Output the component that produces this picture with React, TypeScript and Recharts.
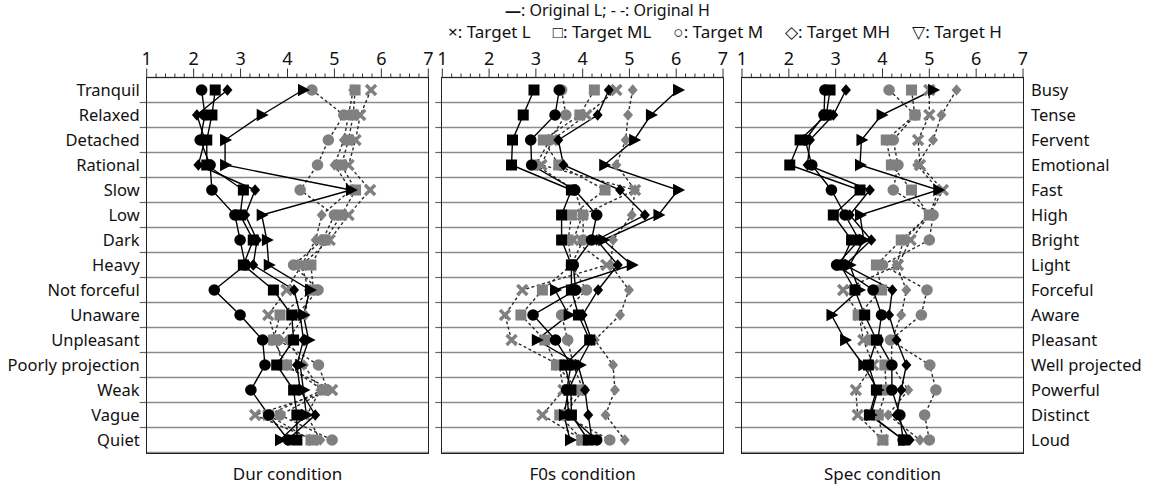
import React from 'react'
import { LineChart, Line, XAxis, YAxis, CartesianGrid } from 'recharts'

const leftLabels = ['Tranquil', 'Relaxed', 'Detached', 'Rational', 'Slow', 'Low', 'Dark', 'Heavy', 'Not forceful', 'Unaware', 'Unpleasant', 'Poorly projection', 'Weak', 'Vague', 'Quiet']
const rightLabels = ['Busy', 'Tense', 'Fervent', 'Emotional', 'Fast', 'High', 'Bright', 'Light', 'Forceful', 'Aware', 'Pleasant', 'Well projected', 'Powerful', 'Distinct', 'Loud']
const rowIndex = [0.5, 1.5, 2.5, 3.5, 4.5, 5.5, 6.5, 7.5, 8.5, 9.5, 10.5, 11.5, 12.5, 13.5, 14.5]
const rowBounds = [1, 2, 3, 4, 5, 6, 7, 8, 9, 10, 11, 12, 13, 14]
const majorTicks = [1, 2, 3, 4, 5, 6, 7]
const minorTicks = [1.2, 1.4, 1.6, 1.8, 2.2, 2.4, 2.6, 2.8, 3.2, 3.4, 3.6, 3.8, 4.2, 4.4, 4.6, 4.8, 5.2, 5.4, 5.6, 5.8, 6.2, 6.4, 6.6, 6.8]
const legendItems = ['×: Target L', '□: Target ML', '○: Target M', '◇: Target MH', '▽: Target H']

// Dur condition
const durL_ML = [2.46, 2.39, 2.28, 2.28, 3.06, 2.99, 3.27, 3.06, 3.7, 4.09, 4.13, 3.77, 4.13, 4.2, 4.2]
const durL_M = [2.17, 2.24, 2.14, 2.35, 2.39, 2.88, 2.99, 3.1, 2.44, 2.99, 3.47, 3.52, 3.22, 3.6, 4.02]
const durL_MH = [2.72, 2.07, 2.24, 2.1, 3.31, 3.1, 3.35, 3.27, 4.14, 4.27, 4.34, 4.2, 4.27, 4.59, 4.0]
const durL_H = [4.33, 3.45, 2.67, 2.67, 5.35, 3.45, 3.56, 3.6, 4.48, 4.34, 4.45, 4.27, 4.34, 4.4, 3.84]
const durH_L = [5.78, 5.55, 5.45, 5.3, 5.76, 5.3, 4.9, 4.3, 3.98, 3.59, 3.75, 3.9, 4.95, 3.31, 4.55]
const durH_ML = [5.44, 5.4, 5.3, 5.15, 5.45, 5.15, 4.8, 4.5, 4.55, 3.84, 3.7, 3.98, 4.75, 3.59, 4.5]
const durH_M = [4.52, 5.2, 4.87, 4.64, 4.27, 5.0, 4.75, 4.13, 4.65, 4.2, 3.8, 4.66, 4.85, 3.84, 4.95]
const durH_MH = [5.4, 5.3, 5.2, 5.0, 5.35, 4.73, 4.6, 4.3, 4.45, 4.38, 4.0, 4.35, 4.7, 4.41, 4.7]

// F0s condition
const f0L_ML = [2.96, 2.73, 2.5, 2.48, 3.76, 3.55, 3.55, 3.76, 3.76, 3.91, 4.15, 3.62, 3.75, 3.76, 4.12]
const f0L_M = [3.5, 3.41, 2.89, 2.91, 3.83, 4.3, 4.19, 3.8, 3.85, 2.94, 3.42, 3.75, 3.66, 3.7, 4.3]
const f0L_MH = [4.56, 4.32, 3.48, 3.59, 4.8, 5.33, 4.3, 4.75, 4.33, 4.0, 4.19, 3.9, 4.05, 4.12, 4.2]
const f0L_H = [6.04, 5.46, 5.1, 4.46, 6.04, 5.62, 4.44, 5.05, 3.41, 3.7, 3.02, 3.94, 3.7, 3.6, 3.73]
const f0H_L = [4.72, 4.08, 3.35, 3.12, 5.12, 4.0, 3.8, 4.51, 2.71, 2.34, 2.48, 3.5, 3.59, 3.14, 4.0]
const f0H_ML = [4.25, 3.94, 3.16, 3.49, 4.48, 3.76, 3.69, 3.76, 3.14, 2.68, 3.19, 3.44, 3.9, 3.51, 3.98]
const f0H_M = [3.55, 3.64, 3.3, 3.0, 3.83, 4.01, 4.01, 3.76, 4.08, 3.55, 3.68, 3.8, 4.01, 3.6, 4.58]
const f0H_MH = [5.07, 4.97, 4.92, 4.72, 5.12, 5.05, 4.65, 4.6, 4.99, 4.8, 4.26, 4.65, 4.69, 4.49, 4.9]

// Spec condition
const specL_ML = [2.88, 2.8, 2.24, 2.02, 3.52, 2.95, 3.34, 3.1, 3.41, 3.62, 3.87, 3.7, 3.87, 3.72, 4.45]
const specL_M = [2.77, 2.75, 2.35, 2.49, 2.91, 3.2, 3.5, 3.02, 3.8, 3.98, 3.9, 4.2, 4.2, 4.37, 4.44]
const specL_MH = [3.22, 2.95, 2.45, 2.4, 3.73, 3.3, 3.76, 3.2, 4.21, 4.14, 4.3, 4.51, 4.4, 4.3, 4.58]
const specL_H = [5.08, 3.98, 3.55, 3.52, 5.19, 3.52, 3.6, 3.3, 3.5, 2.91, 3.2, 3.59, 3.9, 3.75, 4.45]
const specH_L = [5.0, 5.0, 4.76, 4.8, 5.29, 5.0, 4.6, 4.33, 3.16, 3.5, 3.59, 3.8, 3.43, 3.47, 4.0]
const specH_ML = [4.62, 4.69, 4.08, 4.19, 4.62, 5.0, 4.4, 3.87, 3.98, 3.48, 3.76, 4.05, 4.08, 3.91, 4.01]
const specH_M = [4.14, 4.7, 4.23, 4.33, 4.23, 5.08, 5.0, 4.0, 4.95, 4.83, 4.17, 5.01, 5.14, 4.9, 5.0]
const specH_MH = [5.58, 5.26, 5.08, 4.74, 5.2, 5.0, 4.45, 4.3, 4.51, 4.4, 4.2, 4.19, 4.55, 4.12, 4.8]

const FONT = '"Noto Sans", "Open Sans", sans-serif'
const W = 1153
const H = 492
const PLOT_TOP = 77.5
const PLOT_BOTTOM = 452.5
const GRAY = '#808080'

// gray (Original H) drawn first, black (Original L) on top
const seriesDefs = [
  { key: 'hL', shape: 'x', orig: 'H' },
  { key: 'hML', shape: 'sq', orig: 'H' },
  { key: 'hM', shape: 'ci', orig: 'H' },
  { key: 'hMH', shape: 'di', orig: 'H' },
  { key: 'lML', shape: 'sq', orig: 'L' },
  { key: 'lM', shape: 'ci', orig: 'L' },
  { key: 'lMH', shape: 'di', orig: 'L' },
  { key: 'lH', shape: 'tr', orig: 'L' },
]

const panels = [
  {
    title: 'Dur condition', left: 146.7, right: 428.3, rightLabels: false,
    cols: { lML: durL_ML, lM: durL_M, lMH: durL_MH, lH: durL_H, hL: durH_L, hML: durH_ML, hM: durH_M, hMH: durH_MH },
  },
  {
    title: 'F0s condition', left: 442.3, right: 723, rightLabels: false,
    cols: { lML: f0L_ML, lM: f0L_M, lMH: f0L_MH, lH: f0L_H, hL: f0H_L, hML: f0H_ML, hM: f0H_M, hMH: f0H_MH },
  },
  {
    title: 'Spec condition', left: 742, right: 1023, rightLabels: true,
    cols: { lML: specL_ML, lM: specL_M, lMH: specL_MH, lH: specL_H, hL: specH_L, hML: specH_ML, hM: specH_M, hMH: specH_MH },
  },
]

function Marker({ cx, cy, shape, color }: any) {
  if (cx == null || cy == null) return null
  if (shape === 'x') {
    return (
      <g>
        <line x1={cx - 5} y1={cy - 5} x2={cx + 5} y2={cy + 5} stroke={color} strokeWidth={3.4} />
        <line x1={cx - 5} y1={cy + 5} x2={cx + 5} y2={cy - 5} stroke={color} strokeWidth={3.4} />
      </g>
    )
  }
  if (shape === 'sq') return <rect x={cx - 5.5} y={cy - 5.5} width={11} height={11} fill={color} />
  if (shape === 'ci') return <circle cx={cx} cy={cy} r={5.8} fill={color} />
  if (shape === 'di') return <polygon points={`${cx},${cy - 5.8} ${cx + 5},${cy} ${cx},${cy + 5.8} ${cx - 5},${cy}`} fill={color} />
  return <polygon points={`${cx - 5},${cy - 6.2} ${cx + 7},${cy} ${cx - 5},${cy + 6.2}`} fill={color} />
}

function Panel({ p }: any) {
  const rows = rowIndex.map((idx, i) => {
    const r: any = { idx }
    for (const s of seriesDefs) r[s.key] = p.cols[s.key][i]
    return r
  })

  const topTick = (props: any) => {
    const v = props.payload.value
    const major = majorTicks.includes(v)
    return (
      <g>
        <line x1={props.x} x2={props.x} y1={PLOT_TOP} y2={PLOT_TOP - (major ? 9 : 4)} stroke="#333" strokeWidth={1} />
        {major && (
          <text x={props.x} y={PLOT_TOP - 13} textAnchor="middle" fontSize={18} fontFamily={FONT} fill="#111">
            {v}
          </text>
        )}
      </g>
    )
  }

  const leftTick = (props: any) => {
    const v = props.payload.value
    if (rowBounds.includes(v)) {
      return <line x1={p.left} x2={p.left - 7} y1={props.y} y2={props.y} stroke="#666" strokeWidth={1.2} />
    }
    if (p.left > 200) return <g />
    return (
      <text x={p.left - 7} y={props.y} dy={5.5} textAnchor="end" fontSize={16.5} fontFamily={FONT} fill="#111">
        {leftLabels[Math.floor(v)]}
      </text>
    )
  }

  const rightTick = (props: any) => {
    const v = props.payload.value
    if (rowBounds.includes(v)) return <g />
    return (
      <text x={p.right + 8} y={props.y} dy={5.5} textAnchor="start" fontSize={16.5} fontFamily={FONT} fill="#111">
        {rightLabels[Math.floor(v)]}
      </text>
    )
  }

  return (
    <div style={{ position: 'absolute', left: 0, top: 0 }}>
      <LineChart
        width={W}
        height={H}
        data={rows}
        layout="vertical"
        margin={{ top: PLOT_TOP - 20, bottom: H - PLOT_BOTTOM, left: p.left - 10, right: W - p.right - 10 }}
      >
        <XAxis
          type="number"
          orientation="top"
          domain={[1, 7]}
          ticks={[...majorTicks, ...minorTicks]}
          interval={0}
          height={20}
          tickSize={0}
          tickMargin={0}
          axisLine={false}
          tickLine={false}
          tick={topTick}
          allowDataOverflow
        />
        <YAxis
          yAxisId="l"
          type="number"
          dataKey="idx"
          domain={[0, 15]}
          ticks={[...rowBounds, ...rowIndex]}
          interval={0}
          width={10}
          tickSize={0}
          tickMargin={0}
          axisLine={false}
          tickLine={false}
          tick={leftTick}
          allowDataOverflow
        />
        <YAxis
          yAxisId="r"
          orientation="right"
          type="number"
          dataKey="idx"
          domain={[0, 15]}
          ticks={p.rightLabels ? rowIndex : []}
          interval={0}
          width={10}
          tickSize={0}
          tickMargin={0}
          axisLine={false}
          tickLine={false}
          tick={rightTick}
          allowDataOverflow
        />
        <YAxis yAxisId="g" type="number" dataKey="idx" domain={[0, 15]} ticks={rowBounds} hide allowDataOverflow />
        <CartesianGrid yAxisId="g" vertical={false} stroke="#8c8c8c" strokeWidth={1.3} />
        {seriesDefs.map((s) => {
          const isH = s.orig === 'H'
          const color = isH ? GRAY : '#000'
          return (
            <Line
              key={s.key}
              yAxisId="l"
              dataKey={s.key}
              type="linear"
              stroke={isH ? '#2a2a2a' : '#000'}
              strokeWidth={1.4}
              strokeDasharray={isH ? '3 2.5' : undefined}
              isAnimationActive={false}
              dot={(d: any) => <Marker key={`${s.key}-${d.index}`} cx={d.cx} cy={d.cy} shape={s.shape} color={color} />}
            />
          )
        })}
      </LineChart>
      <div
        style={{
          position: 'absolute',
          left: p.left - 1,
          top: PLOT_TOP - 1,
          width: p.right - p.left + 2,
          height: PLOT_BOTTOM - PLOT_TOP + 2,
          border: '1.5px solid #222',
          boxSizing: 'border-box',
          pointerEvents: 'none',
        }}
      />
      <div
        style={{
          position: 'absolute',
          left: p.left,
          width: p.right - p.left,
          top: 462,
          textAlign: 'center',
          fontSize: 17,
          fontFamily: FONT,
          color: '#111',
        }}
      >
        {p.title}
      </div>
    </div>
  )
}

export default function App() {
  return (
    <div style={{ position: 'relative', width: W, height: H, background: '#fff', fontFamily: FONT, overflow: 'hidden' }}>
      <style>{'body{margin:0}'}</style>
      {panels.map((p) => (
        <Panel key={p.title} p={p} />
      ))}
      <div style={{ position: 'absolute', left: 505, top: 1, fontSize: 16, lineHeight: '18px', color: '#111', whiteSpace: 'nowrap' }}>
        <b>—</b>: Original L; - -: Original H
      </div>
      <div style={{ position: 'absolute', left: 448, top: 23, fontSize: 17, lineHeight: '18px', color: '#111', whiteSpace: 'nowrap', display: 'flex', gap: 22 }}>
        {legendItems.map((t) => (
          <span key={t}>{t}</span>
        ))}
      </div>
    </div>
  )
}
